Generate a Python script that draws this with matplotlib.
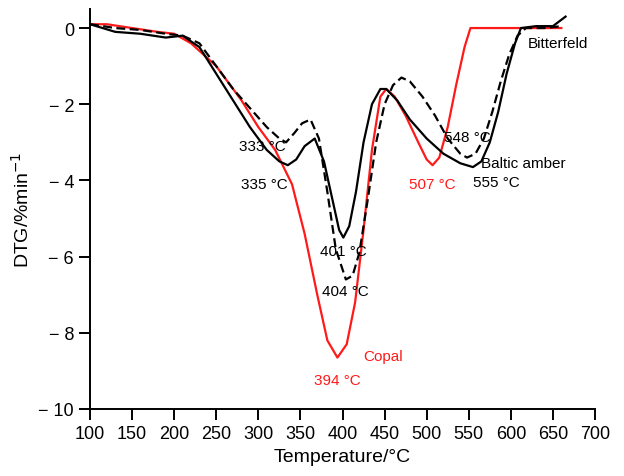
import matplotlib

matplotlib.use("Agg")
import matplotlib.pyplot as plt

plt.rcParams["font.family"] = ["Liberation Sans", "DejaVu Sans"]

copal_t = [100, 120, 150, 180, 200, 220, 250, 280, 300, 320, 340, 355, 370, 382, 394, 405, 415, 425, 435, 445, 452, 462, 475, 490, 500, 507, 515, 525, 535, 545, 552, 600, 640, 660]
copal_y = [0.1, 0.1, 0.0, -0.1, -0.15, -0.4, -1.0, -1.9, -2.6, -3.2, -4.1, -5.4, -7.0, -8.2, -8.65, -8.3, -7.2, -5.3, -3.2, -1.8, -1.6, -1.8, -2.3, -3.0, -3.45, -3.6, -3.4, -2.6, -1.5, -0.5, 0.0, 0.0, 0.0, 0.0]

baltic_t = [100, 130, 160, 190, 210, 230, 250, 270, 290, 310, 325, 335, 345, 355, 367, 378, 388, 396, 401, 408, 416, 425, 435, 445, 452, 465, 480, 500, 520, 540, 555, 565, 575, 585, 595, 605, 612, 630, 650, 665]
baltic_y = [0.1, -0.1, -0.15, -0.25, -0.2, -0.5, -1.2, -1.9, -2.6, -3.2, -3.5, -3.6, -3.45, -3.1, -2.9, -3.5, -4.5, -5.3, -5.5, -5.2, -4.3, -3.0, -2.0, -1.6, -1.6, -1.9, -2.4, -2.9, -3.3, -3.55, -3.65, -3.5, -3.0, -2.2, -1.2, -0.4, 0.0, 0.05, 0.05, 0.3]

bitter_t = [100, 130, 160, 190, 210, 230, 250, 270, 290, 310, 325, 333, 343, 352, 362, 372, 382, 392, 404, 412, 420, 430, 440, 450, 460, 470, 480, 495, 510, 525, 540, 548, 558, 568, 578, 588, 598, 608, 618, 640, 660]
bitter_y = [0.1, 0.0, -0.05, -0.15, -0.2, -0.4, -1.0, -1.6, -2.1, -2.6, -2.9, -3.0, -2.75, -2.5, -2.4, -2.9, -4.3, -5.8, -6.6, -6.5, -5.9, -4.5, -3.0, -2.0, -1.5, -1.3, -1.4, -1.8, -2.3, -2.9, -3.3, -3.4, -3.3, -2.9, -2.2, -1.4, -0.7, -0.2, 0.0, 0.0, 0.05]

fig = plt.figure(figsize=(6.24, 4.77), dpi=100)
ax = fig.add_axes([90 / 624, 67 / 477, 505 / 624, 400 / 477])

ax.plot(copal_t, copal_y, color="#ff1a1a", lw=1.6)
ax.plot(baltic_t, baltic_y, color="black", lw=1.6)
ax.plot(bitter_t, bitter_y, color="black", lw=1.6, ls=(0, (4, 2)))

ax.set_xlim(100, 700)
ax.set_ylim(-10, 0.5)
ax.set_xticks(range(100, 701, 50))
ax.set_yticks([0, -2, -4, -6, -8, -10])
ax.set_yticklabels(["0", "− 2", "− 4", "− 6", "− 8", "− 10"])
for s in ["top", "right"]:
    ax.spines[s].set_visible(False)
ax.spines["left"].set_linewidth(1.4)
ax.spines["bottom"].set_linewidth(1.4)
ax.tick_params(direction="out", length=8, width=1.4, labelsize=13)
ax.set_xlabel("Temperature/°C", fontsize=14)
ax.set_ylabel("DTG/%min$^{-1}$", fontsize=14)

fs = 11
ax.text(333, -3.1, "333 °C", fontsize=fs, ha="right", va="center")
ax.text(335, -4.1, "335 °C", fontsize=fs, ha="right", va="center")
ax.text(401, -5.85, "401 °C", fontsize=fs, ha="center", va="center")
ax.text(404, -6.9, "404 °C", fontsize=fs, ha="center", va="center")
ax.text(394, -9.25, "394 °C", fontsize=fs, ha="center", va="center", color="#ff1a1a")
ax.text(425, -8.6, "Copal", fontsize=fs, ha="left", va="center", color="#ff1a1a")
ax.text(507, -4.1, "507 °C", fontsize=fs, ha="center", va="center", color="#ff1a1a")
ax.text(548, -2.85, "548 °C", fontsize=fs, ha="center", va="center")
ax.text(555, -4.05, "555 °C", fontsize=fs, ha="left", va="center")
ax.text(565, -3.55, "Baltic amber", fontsize=fs, ha="left", va="center")
ax.text(620, -0.4, "Bitterfeld", fontsize=fs, ha="left", va="center")

fig.savefig("out.png")
